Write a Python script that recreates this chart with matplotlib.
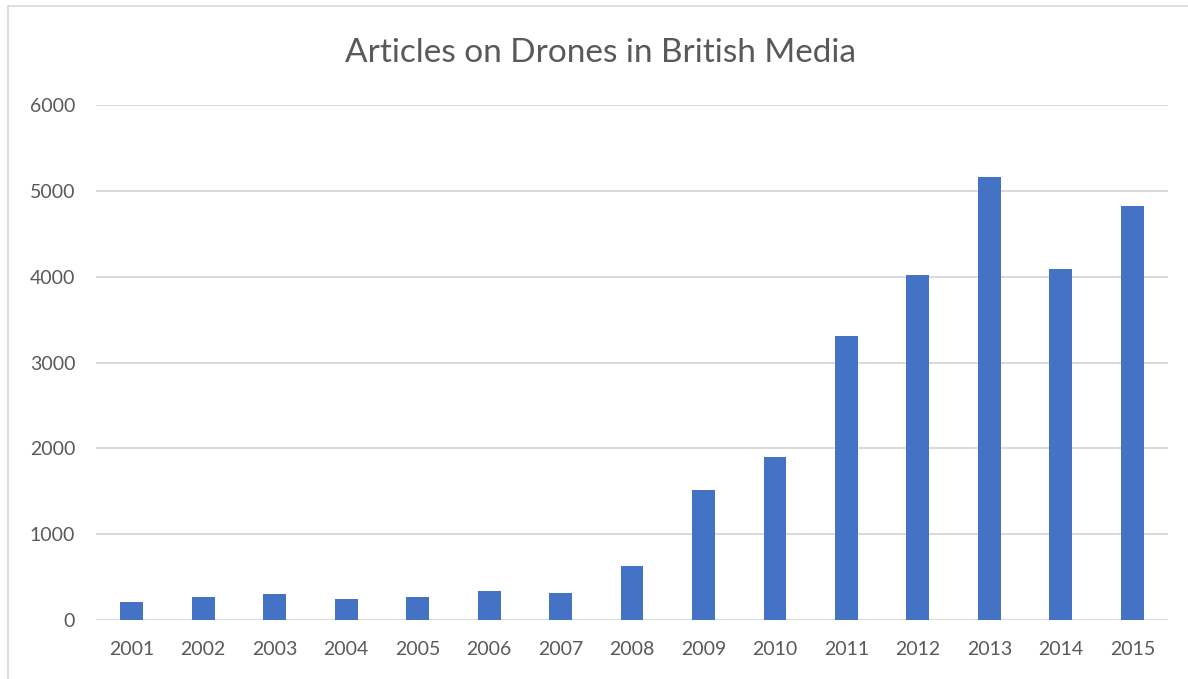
import matplotlib.pyplot as plt
from matplotlib.lines import Line2D

years = ["2001", "2002", "2003", "2004", "2005", "2006", "2007", "2008",
         "2009", "2010", "2011", "2012", "2013", "2014", "2015"]
articles = [210, 270, 300, 250, 270, 340, 310, 630,
            1520, 1900, 3310, 4020, 5170, 4090, 4830]
y_ticks = [0, 1000, 2000, 3000, 4000, 5000, 6000]

plt.rcParams["font.family"] = ["Lato", "DejaVu Sans"]
text_color = "#595959"

fig = plt.figure(figsize=(11.88, 6.79), dpi=100)
ax = fig.add_axes([0.0808, 0.0869, 0.9024, 0.758])

x = range(len(years))
ax.bar(x, articles, width=0.32, color="#4472C4", zorder=3)

ax.set_xlim(-0.5, len(years) - 0.5)
ax.set_ylim(0, 6000)
ax.set_xticks(list(x))
ax.set_xticklabels(years)
ax.set_yticks(y_ticks)
ax.grid(axis="y", color="#d9d9d9", linewidth=1.4, zorder=0)
ax.tick_params(axis="both", length=0, labelsize=14, colors=text_color)
ax.tick_params(axis="x", pad=15)
ax.tick_params(axis="y", pad=15)
for spine in ax.spines.values():
    spine.set_visible(False)

fig.text(601 / 1188, 1 - 53 / 679, "Articles on Drones in British Media",
         ha="center", va="center", fontsize=24, color=text_color)

# light frame around the chart area
fig.add_artist(Line2D([8 / 1188, 1], [1 - 6 / 679, 1 - 6 / 679],
                      color="#d9d9d9", linewidth=1.2))
fig.add_artist(Line2D([8 / 1188, 8 / 1188], [0, 1 - 6 / 679],
                      color="#d9d9d9", linewidth=1.2))

fig.savefig("out.png", dpi=100)
